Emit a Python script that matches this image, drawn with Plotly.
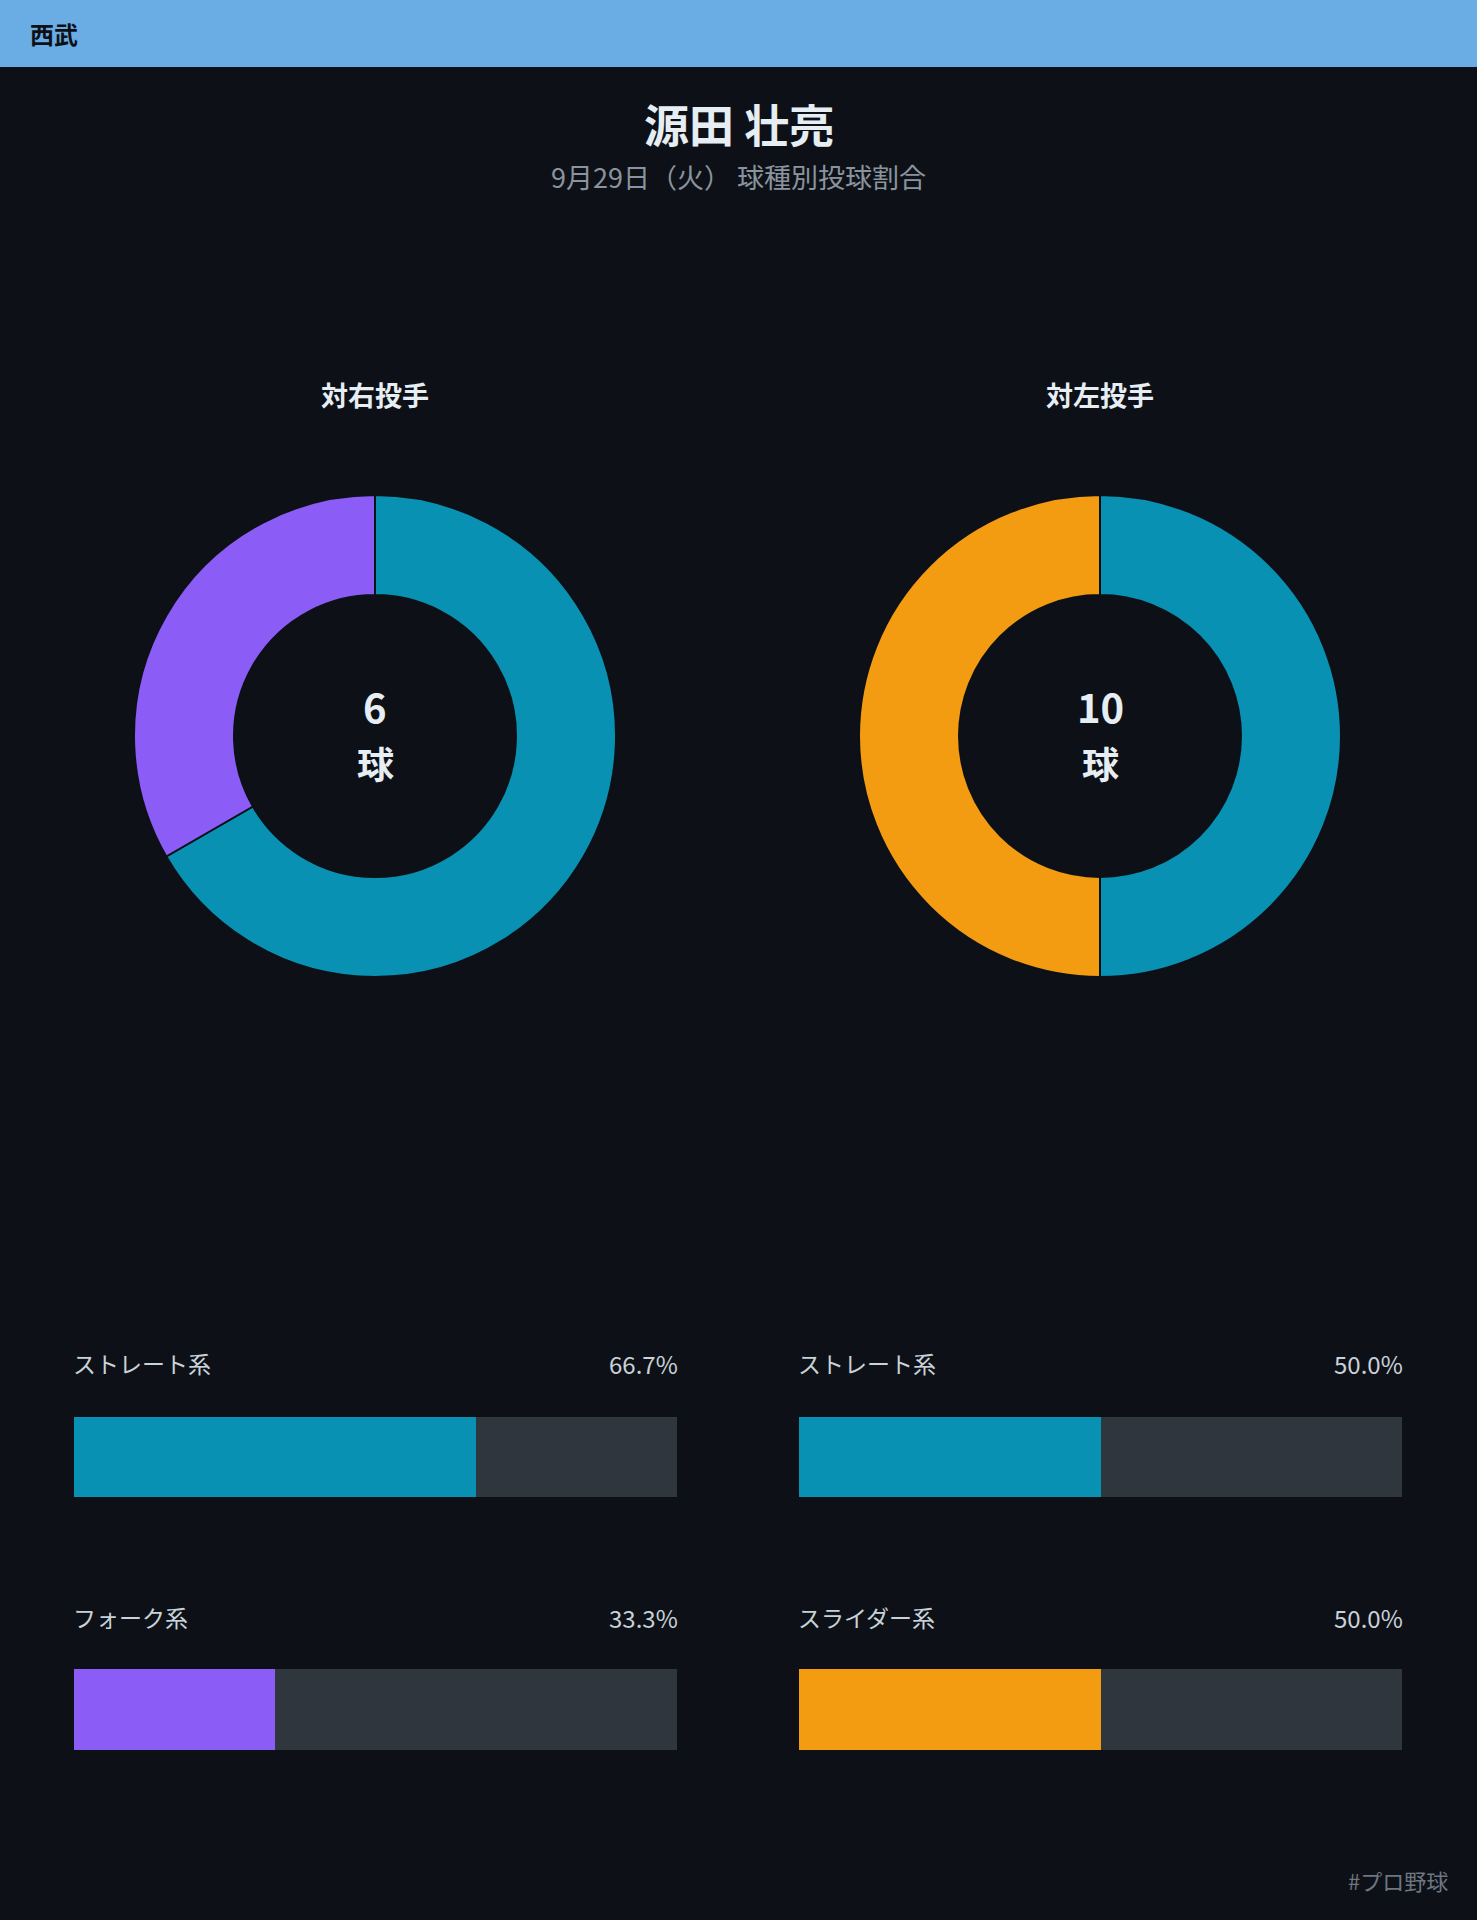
import plotly.graph_objects as go

W, H = 1477, 1920

# ---- data ----
team = "西武"
player = "源田 壮亮"
subtitle = "9月29日（火） 球種別投球割合"
footer = "#プロ野球"

panel_titles = ["対右投手", "対左投手"]
right_types = ["ストレート系", "フォーク系"]
right_counts = [4, 2]
left_types = ["ストレート系", "スライダー系"]
left_counts = [5, 5]

type_colors = {
    "ストレート系": "#0891b2",
    "フォーク系": "#8b5cf6",
    "スライダー系": "#f39c12",
}

BG = "#0d1117"
TRACK = "#30363d"
FONT = "Noto Sans CJK JP"


def note(x, y, text, size, color, xanchor="center"):
    fig.add_annotation(x=x / W, y=1 - y / H, xref="paper", yref="paper", text=text,
                       showarrow=False, xanchor=xanchor, yanchor="middle",
                       font=dict(family=FONT, size=size, color=color))


fig = go.Figure()

panels = [
    (panel_titles[0], right_types, right_counts, 375),
    (panel_titles[1], left_types, left_counts, 1100),
]

R = 241
CY = 736
for i, (title, types, counts, cx) in enumerate(panels):
    fig.add_trace(go.Pie(
        labels=types, values=counts, hole=0.585, sort=False,
        direction="clockwise", rotation=0,
        marker=dict(colors=[type_colors[t] for t in types], line=dict(color=BG, width=2)),
        textinfo="none", hoverinfo="label+percent", showlegend=False,
        domain=dict(x=[(cx - R) / W, (cx + R) / W], y=[(H - CY - R) / H, (H - CY + R) / H]),
    ))
    total = sum(counts)
    note(cx, 706, f"<b>{total}</b>", 40, "#e6edf3")
    note(cx, 763, "<b>球</b>", 37, "#e6edf3")
    note(cx, 395, f"<b>{title}</b>", 27, "#e6edf3")

# ---- bars ----
bar_x = [(73.5, 677), (798.5, 1402)]
bar_y = [(1417, 1497), (1669, 1750)]
label_y = [1363, 1617]
ax = 1
for i, (title, types, counts, cx) in enumerate(panels):
    total = sum(counts)
    x0, x1 = bar_x[i]
    for j, t in enumerate(types):
        pct = counts[j] / total * 100
        xa = "x" if ax == 1 else f"x{ax}"
        ya = "y" if ax == 1 else f"y{ax}"
        fig.add_trace(go.Bar(x=[100], y=[0], orientation="h", width=1,
                             marker=dict(color=TRACK, line=dict(width=0)),
                             xaxis=xa, yaxis=ya, showlegend=False, hoverinfo="skip"))
        fig.add_trace(go.Bar(x=[pct], y=[0], orientation="h", width=1,
                             marker=dict(color=type_colors[t], line=dict(width=0)),
                             xaxis=xa, yaxis=ya, showlegend=False, name=t))
        yt, yb = bar_y[j]
        axis_common = dict(showgrid=False, zeroline=False, showticklabels=False,
                           showline=False, fixedrange=True)
        fig.update_layout(**{
            ("xaxis" if ax == 1 else f"xaxis{ax}"): dict(domain=[x0 / W, x1 / W], range=[0, 100],
                                                         anchor=ya, **axis_common),
            ("yaxis" if ax == 1 else f"yaxis{ax}"): dict(domain=[(H - yb) / H, (H - yt) / H],
                                                         range=[-0.5, 0.5], anchor=xa, **axis_common),
        })
        note(x0 - 2.5, label_y[j], t, 23, "#c9d1d9", "left")
        note(x1 + 2.5, label_y[j], f"{pct:.1f}%", 24, "#c9d1d9", "right")
        ax += 1

# ---- header / titles ----
fig.add_shape(type="rect", xref="paper", yref="paper", x0=0, x1=1, y0=1 - 67 / H, y1=1,
              fillcolor="#6aace4", line=dict(width=0), layer="below")
note(28, 33, f"<b>{team}</b>", 24, "#0d1117", "left")
note(W / 2, 124, f"<b>{player}</b>", 45, "#e6edf3")
note(W / 2, 176, subtitle, 27, "#8b949e")
note(1450, 1880, footer, 22, "#6e7681", "right")

fig.update_layout(width=W, height=H, margin=dict(l=0, r=0, t=0, b=0),
                  paper_bgcolor=BG, plot_bgcolor=BG, barmode="overlay", bargap=0,
                  font=dict(family=FONT))

fig.write_html("out.html", config={"displayModeBar": False},
               post_script="document.body.style.margin='0';document.body.style.background='#0d1117';")
